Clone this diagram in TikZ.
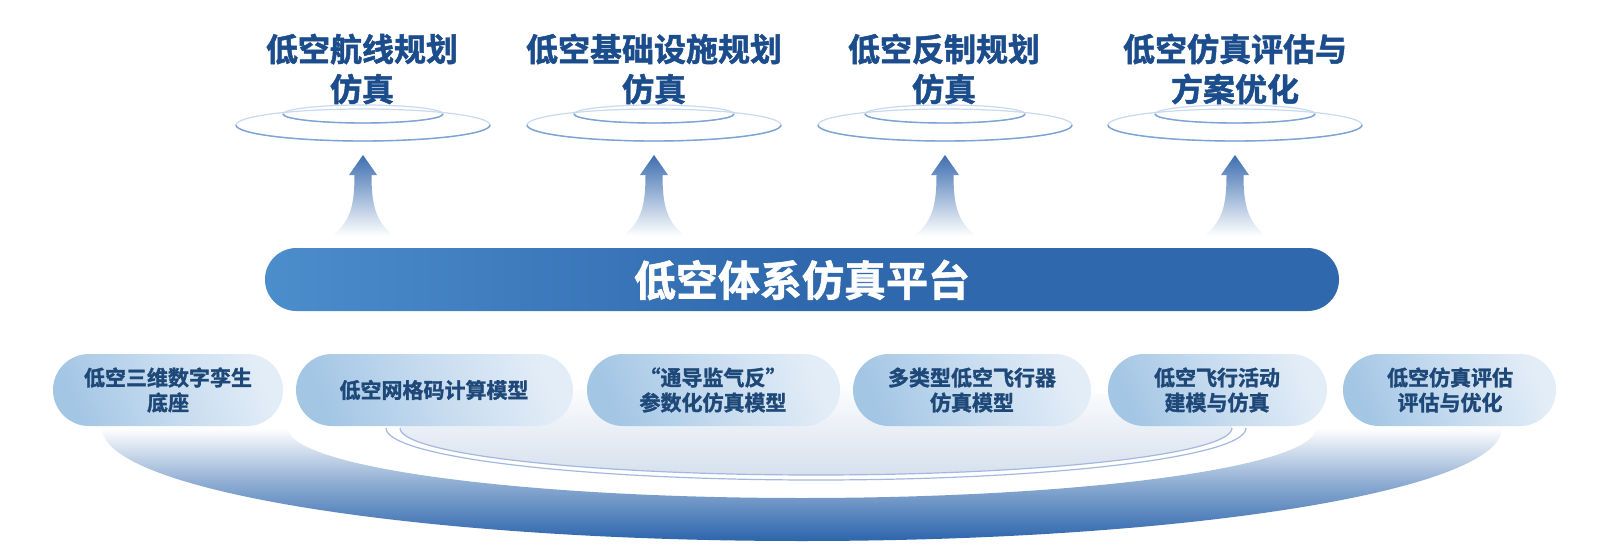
\documentclass[tikz,border=0pt]{standalone}
\usepackage{fontspec}
\newfontfamily\cjk{Noto Sans CJK SC}[BoldFont={Noto Sans CJK SC Bold}, BoldFeatures={FakeBold=1.5}]
\definecolor{titleblue}{HTML}{1B4C8C}
\definecolor{pilltext}{HTML}{1E4878}
\definecolor{barL}{HTML}{4C8DCC}
\definecolor{barR}{HTML}{2F68AD}
\definecolor{swoosh}{HTML}{2C65AC}
\definecolor{arrowblue}{HTML}{3D6EB0}
\definecolor{ringblue}{HTML}{7BA3D6}
\definecolor{ringfaint}{HTML}{C9DAEF}
\definecolor{pillL}{HTML}{A3C6E5}
\definecolor{pillR}{HTML}{E3EDF7}
\definecolor{discring}{HTML}{A3B8E0}
\definecolor{discfill}{HTML}{D6E0EE}
\tikzset{
  titletext/.style={inner sep=0pt, align=center, text=titleblue,
    font=\cjk\bfseries\fontsize{32}{40}\selectfont},
  pilltxt/.style={inner sep=0pt, align=center, text=pilltext,
    font=\cjk\bfseries\fontsize{21}{25}\selectfont},
  pillbox/.style={rounded corners=36pt, left color=pillL, right color=pillR, middle color=pillL!45!pillR, shading angle=112},
  upshape/.style={top color=arrowblue, bottom color=white, middle color=arrowblue!50},
}
\begin{document}
\begin{tikzpicture}[x=1pt,y=1pt]
\useasboundingbox (0,0) rectangle (1600,558);
\fill[white] (0,0) rectangle (1600,558);

% big swoosh
\shade[top color=white, bottom color=swoosh, middle color=swoosh!55]
  (102,130) arc[start angle=180, end angle=360, x radius=700, y radius=113]
  -- (1316,130) arc[start angle=0, end angle=-180, x radius=514, y radius=70] -- cycle;

% inner disc
\shade[top color=white, bottom color=discfill] (816,130) ellipse[x radius=416, y radius=47];
\draw[discring, line width=1.2pt] (1246,130) arc[start angle=0, end angle=-180, x radius=430, y radius=52];
\draw[discring, line width=1.2pt] (1232,130) arc[start angle=0, end angle=-180, x radius=416, y radius=47];

% platform bar
\shade[rounded corners=31.5pt, left color=barL, right color=barR, middle color=barR]
  (265,247) rectangle (1339,310);
\node[inner sep=0pt, text=white, font=\cjk\bfseries\fontsize{42}{48}\selectfont] (plat) at (802,278) {低空体系仿真平台};

% top columns
\foreach \cx in {363,654,945,1235}{
  \draw[ringfaint, line width=1.2pt] (\cx,433) ellipse[x radius=127, y radius=16];
  \draw[ringblue, line width=1.4pt] (\cx+127,433) arc[start angle=0, end angle=-180, x radius=127, y radius=16];
  \draw[ringfaint, line width=1.2pt] (\cx,444) ellipse[x radius=80, y radius=9];
  \draw[ringblue, line width=1.4pt] (\cx+80,444) arc[start angle=0, end angle=-180, x radius=80, y radius=9];
  \shade[upshape] (\cx,403) -- (\cx+14,383) -- (\cx+8.5,383)
    .. controls (\cx+8.5,352) and (\cx+13,336) .. (\cx+31,322)
    -- (\cx-31,322)
    .. controls (\cx-13,336) and (\cx-8.5,352) .. (\cx-8.5,383)
    -- (\cx-14,383) -- cycle;
}
\node[titletext] (t1) at (362,489) {低空航线规划\\仿真};
\node[titletext] (t2) at (654,489) {低空基础设施规划\\仿真};
\node[titletext] (t3) at (944,489) {低空反制规划\\仿真};
\node[titletext] (t4) at (1235,489) {低空仿真评估与\\方案优化};

% pills
\shade[pillbox] (53,132) rectangle (283,204);
\shade[pillbox] (296,132) rectangle (573,204);
\shade[pillbox] (587,132) rectangle (840,204);
\shade[pillbox] (853,132) rectangle (1091,204);
\shade[pillbox] (1108,132) rectangle (1327,204);
\shade[pillbox] (1343,132) rectangle (1556,204);
\node[pilltxt] (p1) at (168,168) {低空三维数字孪生\\底座};
\node[pilltxt] (p2) at (434,168) {低空网格码计算模型};
\node[pilltxt] (p3) at (713,168) {“通导监气反”\\参数化仿真模型};
\node[pilltxt] (p4) at (972,168) {多类型低空飞行器\\仿真模型};
\node[pilltxt] (p5) at (1217,168) {低空飞行活动\\建模与仿真};
\node[pilltxt] (p6) at (1450,168) {低空仿真评估\\评估与优化};
\end{tikzpicture}
\end{document}
